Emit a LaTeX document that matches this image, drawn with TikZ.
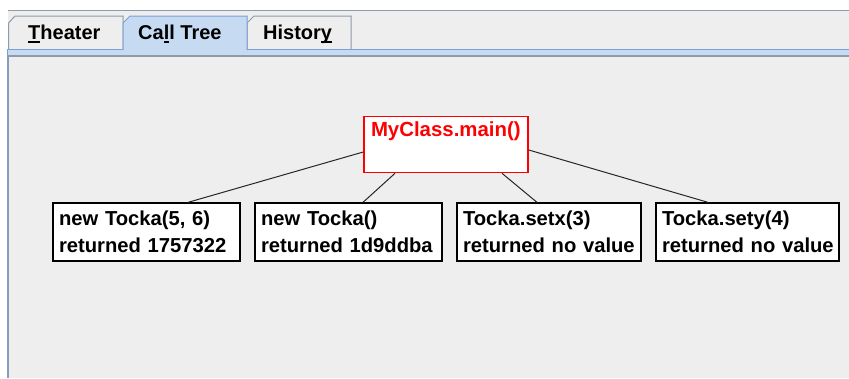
\documentclass[tikz,border=0pt]{standalone}
\usepackage{fontspec}
\setmainfont{Liberation Sans}
\usetikzlibrary{calc}
\definecolor{panelbg}{HTML}{EEEEEE}
\definecolor{tabline}{HTML}{8E9BA8}
\definecolor{selfill}{HTML}{C6DBF1}
\definecolor{selline}{HTML}{7D9FD5}
\definecolor{callred}{HTML}{FF0000}
\newcommand\mnem[1]{\setbox0\hbox{#1}\rlap{\rule[-3.5pt]{\wd0}{1.2pt}}#1}
\begin{document}
\begin{tikzpicture}[x=1pt,y=-1pt,
  tabtext/.style={font=\fontsize{20}{24}\selectfont\bfseries, inner sep=0pt, anchor=base west},
  callbox/.style={draw=black, line width=1.3pt, fill=white,
    font=\fontsize{20.2}{27}\selectfont\bfseries, align=left,
    inner xsep=6pt, inner ysep=0pt, minimum height=58pt, text width=#1, anchor=center},
  rootbox/.style={draw=callred, line width=1.6pt, fill=white, text=callred,
    font=\fontsize{20.4}{24}\selectfont\bfseries, align=left,
    inner xsep=7pt, inner ysep=0pt, text width=150pt, text height=20pt, text depth=36pt, anchor=center},
  link/.style={draw=black!85, line width=1pt}
]
\useasboundingbox (0,0) rectangle (849,378);
% background
\fill[white] (0,0) rectangle (849,378);
\fill[panelbg] (8,10) rectangle (849,378);
\draw[tabline, line width=1pt] (8,10.5) -- (849,10.5);
% tabs
\filldraw[fill=panelbg, draw=tabline, line width=1pt] (8.5,49) -- (8.5,23) -- (15,16) -- (123,16) -- (123,49);
\filldraw[fill=panelbg, draw=tabline, line width=1pt] (247,49) -- (247,23) -- (254,16) -- (351,16) -- (351,49);
% strip under tabs
\fill[selfill] (8,49) rectangle (849,55.5);
\draw[selline, line width=1pt] (8,49.5) -- (123,49.5);
\draw[selline, line width=1pt] (247,49.5) -- (849,49.5);
\filldraw[fill=selfill, draw=selline, line width=1pt] (123,50) -- (123,23) -- (130,16) -- (247,16) -- (247,50);
\fill[selfill] (123.6,48) rectangle (246.4,55);
\draw[tabline, line width=1.2pt] (8,56) -- (849,56);
% left panel border
\draw[selline, line width=1pt] (7,49) -- (7,378);
\draw[tabline, line width=1pt] (8.5,56) -- (8.5,378);
% tab labels
\node[tabtext] (t1) at (28,39) {\mnem{T}heater};
\node[tabtext] (t2) at (138,39) {Ca\mnem{l}l Tree};
\node[tabtext] (t3) at (263,39) {Histor\mnem{y}};
% call tree
\node[rootbox] (root) at (446,144.5) {MyClass.main()};
\node[callbox=175pt] (c1) at (146.5,232) {\mbox{new Tocka(5, 6)}\\\mbox{returned 1757322}};
\node[callbox=175pt] (c2) at (348.5,232) {\mbox{new Tocka()}\\\mbox{returned 1d9ddba}};
\node[callbox=172pt] (c3) at (549,232) {\mbox{Tocka.setx(3)}\\\mbox{returned no value}};
\node[callbox=171pt] (c4) at (747.5,232) {\mbox{Tocka.sety(4)}\\\mbox{returned no value}};
\draw[link] ([yshift=-7.5pt]root.west) -- ([xshift=41.5pt]c1.north);
\draw[link] ([xshift=-51pt]root.south) -- ([xshift=14.5pt]c2.north);
\draw[link] ([xshift=56pt]root.south) -- ([xshift=-12pt]c3.north);
\draw[link] ([yshift=-5.5pt]root.east) -- ([xshift=-39.5pt]c4.north);
\end{tikzpicture}
\end{document}
